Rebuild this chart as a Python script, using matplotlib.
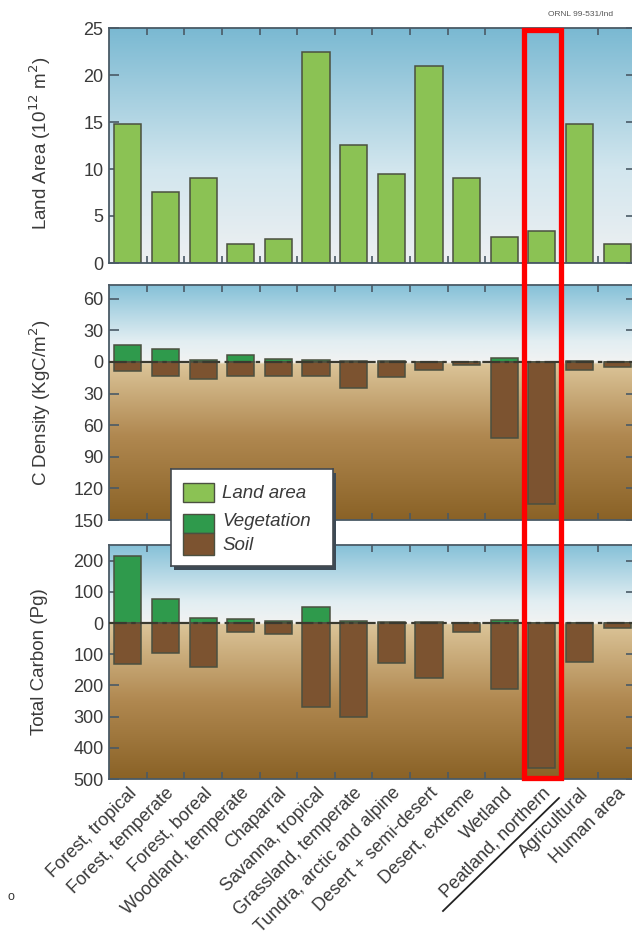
import numpy as np
import matplotlib.pyplot as plt
from matplotlib.patches import Rectangle
from matplotlib.lines import Line2D
from matplotlib.ticker import FuncFormatter

plt.rcParams['font.family'] = ['Liberation Sans', 'DejaVu Sans']

# biome categories
biomes = ['Forest, tropical', 'Forest, temperate', 'Forest, boreal', 'Woodland, temperate',
          'Chaparral', 'Savanna, tropical', 'Grassland, temperate', 'Tundra, arctic and alpine',
          'Desert + semi-desert', 'Desert, extreme', 'Wetland', 'Peatland, northern',
          'Agricultural', 'Human area']

# land area (10^12 m2)
land_area = [14.8, 7.5, 9.0, 2.0, 2.5, 22.5, 12.6, 9.5, 21.0, 9.0, 2.8, 3.4, 14.8, 2.0]

# carbon density (KgC/m2), soil drawn downwards
veg_density = [16, 12, 2, 7, 3, 2, 0.5, 0.5, 0.3, 0.2, 4, 0, 0.5, 0]
soil_density = [9, 13, 16, 13, 13, 13, 25, 14, 8, 3, 72, 135, 8, 5]

# total carbon (Pg)
veg_total = [215, 78, 16, 12, 5, 52, 6, 3, 3, 0.5, 10, 0, 0.5, 0]
soil_total = [130, 95, 142, 30, 35, 270, 300, 128, 175, 28, 210, 465, 125, 15]

c_land = '#8bc254'
c_veg = '#2f9a4c'
c_soil = '#7c5330'
c_edge = '#4b5040'
c_text = '#3a3a3a'

W, H = 632, 938
fig = plt.figure(figsize=(W / 100, H / 100), dpi=100)
fig.patch.set_facecolor('white')


def box(top, bottom, left=109, right=636):
    return [left / W, 1 - bottom / H, (right - left) / W, (bottom - top) / H]


def gradient(ax, ylo, yhi, stops):
    # vertical colour ramp behind the bars
    ys = np.linspace(ylo, yhi, 300)
    pos = [s[0] for s in stops]
    cols = np.array([plt.matplotlib.colors.to_rgb(s[1]) for s in stops])
    img = np.stack([np.interp(ys, pos, cols[:, k]) for k in range(3)], axis=-1)
    ax.imshow(img[:, None, :], extent=(-0.5, len(biomes) - 0.5, ylo, yhi),
              origin='lower', aspect='auto', zorder=0, interpolation='bilinear')


def style(ax, ylo, yhi, ticks):
    x = np.arange(len(biomes))
    ax.set_xlim(-0.5, len(biomes) - 0.5)
    ax.set_ylim(ylo, yhi)
    ax.set_yticks(ticks)
    ax.yaxis.set_major_formatter(FuncFormatter(lambda v, p: f'{abs(v):g}'))
    ax.set_xticks(x)
    ax.set_xticks(x[:-1] + 0.5, minor=True)
    ax.tick_params(axis='x', which='major', length=0, labelbottom=False)
    ax.tick_params(axis='x', which='minor', direction='in', length=5, top=True,
                   color='#4a5a66', width=1.2)
    ax.tick_params(axis='y', direction='in', length=7, right=True, width=1.2,
                   color='#4a5a66', labelsize=13, labelcolor=c_text, pad=4)
    for s in ax.spines.values():
        s.set_color('#4a5a66')
        s.set_linewidth(1.3)


x = np.arange(len(biomes))
bw = 0.72

# --- land area
ax1 = fig.add_axes(box(28, 263))
gradient(ax1, 0, 25, [(0, '#eef0f2'), (10, '#d2e6ee'), (25, '#7ab9d2')])
ax1.bar(x, land_area, bw, color=c_land, edgecolor=c_edge, linewidth=1.1, zorder=2)
style(ax1, 0, 25, [0, 5, 10, 15, 20, 25])

# --- carbon density
ax2 = fig.add_axes(box(285, 520))
gradient(ax2, -150, 73, [(-150, '#8a6226'), (-70, '#b08850'), (-2, '#dbc498'), (0, '#f2f3f2'),
                         (20, '#e2eef2'), (73, '#86c1d8')])
ax2.bar(x, veg_density, bw, color=c_veg, edgecolor=c_edge, linewidth=1.1, zorder=2)
ax2.bar(x, [-v for v in soil_density], bw, color=c_soil, edgecolor=c_edge, linewidth=1.1, zorder=2)
ax2.axhline(0, color='#3a3a30', lw=1.6, ls=(0, (8, 2, 2, 2)), zorder=3)
style(ax2, -150, 73, [60, 30, 0, -30, -60, -90, -120, -150])

# --- total carbon
ax3 = fig.add_axes(box(545, 779))
gradient(ax3, -500, 250, [(-500, '#8a6226'), (-250, '#b08850'), (-5, '#dbc498'), (0, '#f2f3f2'),
                          (70, '#e2eef2'), (250, '#86c1d8')])
ax3.bar(x, veg_total, bw, color=c_veg, edgecolor=c_edge, linewidth=1.1, zorder=2)
ax3.bar(x, [-v for v in soil_total], bw, color=c_soil, edgecolor=c_edge, linewidth=1.1, zorder=2)
ax3.axhline(0, color='#3a3a30', lw=1.6, ls=(0, (8, 2, 2, 2)), zorder=3)
style(ax3, -500, 250, [200, 100, 0, -100, -200, -300, -400, -500])
ax3.tick_params(axis='x', which='major', labelbottom=True, labelsize=13,
                labelcolor=c_text, pad=4)
ax3.set_xticklabels(biomes, rotation=45, ha='right', va='top', rotation_mode='anchor')

# axis titles
fig.text(40 / W, 1 - 143 / H, 'Land Area (10$^{12}$ m$^{2}$)', rotation=90,
         ha='center', va='center', fontsize=13.5, color=c_text)
fig.text(40 / W, 1 - 403 / H, 'C Density (KgC/m$^{2}$)', rotation=90,
         ha='center', va='center', fontsize=13.5, color=c_text)
fig.text(40 / W, 1 - 662 / H, 'Total Carbon (Pg)', rotation=90,
         ha='center', va='center', fontsize=13.5, color=c_text)

# legend box drawn by hand, with a drop shadow
lg = fig.add_axes([171 / W, 1 - 566 / H, 162 / W, 97 / H], zorder=10)
lg.set_xlim(0, 162)
lg.set_ylim(97, 0)
lg.set_facecolor('white')
lg.set_xticks([])
lg.set_yticks([])
for s in lg.spines.values():
    s.set_color('#444a50')
    s.set_linewidth(1.2)
fig.patches.append(Rectangle((174 / W, 1 - 570 / H), 162 / W, 97 / H, transform=fig.transFigure,
                             facecolor='#3d4a55', edgecolor='none', zorder=5))
lg.add_patch(Rectangle((12, 14), 31, 19, facecolor=c_land, edgecolor=c_edge, lw=1))
lg.add_patch(Rectangle((12, 45), 31, 19, facecolor=c_veg, edgecolor=c_edge, lw=1))
lg.add_patch(Rectangle((12, 64), 31, 22, facecolor=c_soil, edgecolor=c_edge, lw=1))
for yy, name in [(24, 'Land area'), (53, 'Vegetation'), (76, 'Soil')]:
    lg.text(51, yy, name, fontsize=13.5, style='italic', color=c_text, va='center', ha='left')

# highlight on peatland column
fig.patches.append(Rectangle((524 / W, 1 - 777.5 / H), 36.5 / W, 747 / H, transform=fig.transFigure,
                             facecolor='none', edgecolor='#ff0000', lw=3.8, zorder=20))
# underline under the peatland label
fig.lines.append(Line2D([443 / W, 559 / W], [1 - 911 / H, 1 - 798 / H], transform=fig.transFigure,
                        color='#222222', lw=1.3))

fig.text(548 / W, 1 - 15 / H, 'ORNL 99-531/lnd', fontsize=6, color='#555555', va='center')
fig.text(8 / W, 1 - 897 / H, 'o', fontsize=9, color='#333333', va='center')

fig.savefig('out.png', dpi=100, facecolor='white')
